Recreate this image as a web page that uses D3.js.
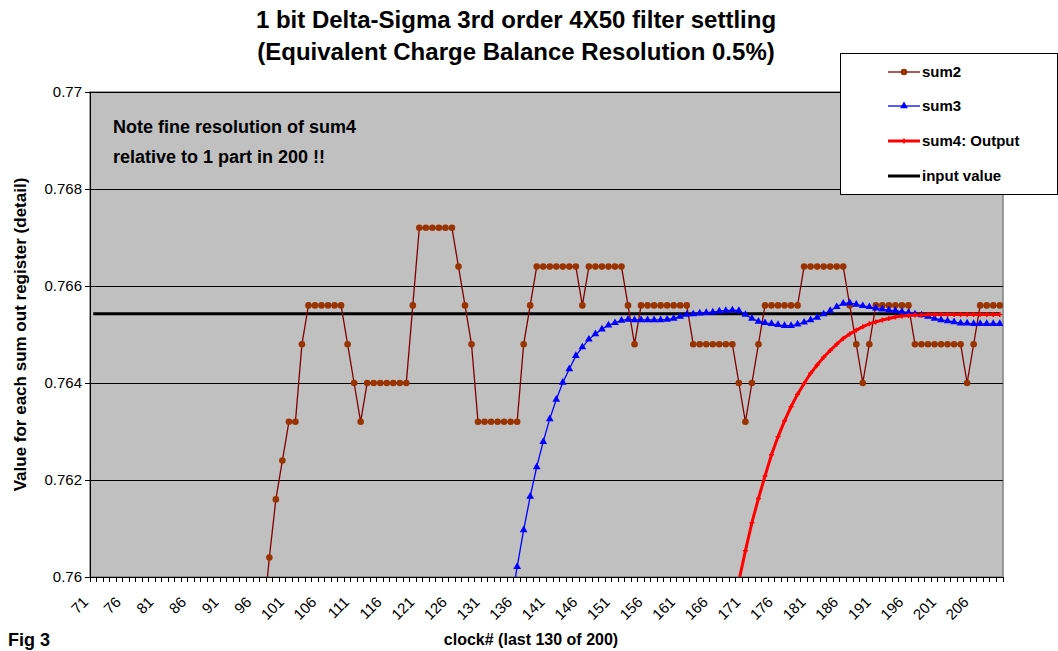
<!DOCTYPE html>
<html>
<head>
<meta charset="utf-8">
<script src="https://cdn.jsdelivr.net/npm/d3@7"></script>
<style>
  body { margin: 0; background: #fff; }
  text { font-family: Arial, "Liberation Sans", sans-serif; fill: #000; }
</style>
</head>
<body>
<script>
var width = 1058;
var height = 651;
var plot = { left: 90, right: 1003, top: 92, bottom: 577 };

// categorie: clock# 71..210
var clocks = d3.range(71, 211);
var xTickLabels = [71, 76, 81, 86, 91, 96, 101, 106, 111, 116, 121, 126, 131, 136, 141, 146, 151, 156, 161, 166, 171, 176, 181, 186, 191, 196, 201, 206];
var yTicks = [0.76, 0.762, 0.764, 0.766, 0.768, 0.77];
var yTickLabels = ['0.76', '0.762', '0.764', '0.766', '0.768', '0.77'];

// sum2 a partire dal clock 97
var sum2Start = 97;
var sum2 = [0.7590, 0.7604, 0.7616, 0.7624, 0.7632, 0.7632, 0.7648,
  0.7656, 0.7656, 0.7656, 0.7656, 0.7656, 0.7656,
  0.7648, 0.7640, 0.7632,
  0.7640, 0.7640, 0.7640, 0.7640, 0.7640, 0.7640, 0.7640,
  0.7656,
  0.7672, 0.7672, 0.7672, 0.7672, 0.7672, 0.7672,
  0.7664, 0.7656, 0.7648,
  0.7632, 0.7632, 0.7632, 0.7632, 0.7632, 0.7632, 0.7632,
  0.7648, 0.7656,
  0.7664, 0.7664, 0.7664, 0.7664, 0.7664, 0.7664, 0.7664,
  0.7656,
  0.7664, 0.7664, 0.7664, 0.7664, 0.7664, 0.7664,
  0.7656, 0.7648,
  0.7656, 0.7656, 0.7656, 0.7656, 0.7656, 0.7656, 0.7656, 0.7656,
  0.7648, 0.7648, 0.7648, 0.7648, 0.7648, 0.7648, 0.7648,
  0.7640, 0.7632, 0.7640, 0.7648,
  0.7656, 0.7656, 0.7656, 0.7656, 0.7656, 0.7656,
  0.7664, 0.7664, 0.7664, 0.7664, 0.7664, 0.7664, 0.7664,
  0.7656, 0.7648, 0.7640, 0.7648,
  0.7656, 0.7656, 0.7656, 0.7656, 0.7656, 0.7656,
  0.7648, 0.7648, 0.7648, 0.7648, 0.7648, 0.7648, 0.7648, 0.7648,
  0.7640, 0.7648,
  0.7656, 0.7656, 0.7656, 0.7656];

// sum3 a partire dal clock 135
var sum3Start = 135;
var sum3 = [0.75940, 0.76021, 0.76097, 0.76166, 0.76227, 0.76279, 0.76326, 0.76366, 0.76401, 0.76429,
  0.76456, 0.76474, 0.76490, 0.76501, 0.76511, 0.76519, 0.76524, 0.76529, 0.76531, 0.76530,
  0.76530, 0.76530, 0.76530, 0.76530, 0.76531, 0.76533, 0.76537, 0.76541, 0.76542, 0.76544,
  0.76545, 0.76546, 0.76548, 0.76549, 0.76550, 0.76549, 0.76541, 0.76533, 0.76527, 0.76524,
  0.76522, 0.76520, 0.76518, 0.76518, 0.76521, 0.76525, 0.76530, 0.76535, 0.76542, 0.76549,
  0.76557, 0.76564, 0.76565, 0.76562, 0.76559, 0.76557, 0.76554, 0.76552, 0.76550, 0.76549,
  0.76547, 0.76545, 0.76542, 0.76540, 0.76537, 0.76533, 0.76530, 0.76528, 0.76526, 0.76523,
  0.76523, 0.76522, 0.76522, 0.76522, 0.76522, 0.76522];

// sum4 a partire dal clock 170
var sum4Start = 170;
var sum4 = [0.75992, 0.76054, 0.76112, 0.76162, 0.76208, 0.76252, 0.76289, 0.76322, 0.76351, 0.76377,
  0.76399, 0.76420, 0.76437, 0.76453, 0.76467, 0.76480, 0.76492, 0.76501, 0.76509, 0.76516,
  0.76522, 0.76526, 0.76530, 0.76533, 0.76536, 0.76538, 0.76539, 0.76540, 0.76540, 0.76541,
  0.76541, 0.76541, 0.76541, 0.76541, 0.76541, 0.76541, 0.76541, 0.76541, 0.76541, 0.76541,
  0.76541];

var inputValue = 0.76543;

var svg = d3.select('body').append('svg')
  .attr('width', width)
  .attr('height', height);

var x = d3.scaleBand().domain(clocks).range([plot.left, plot.right]).padding(0);
var y = d3.scaleLinear().domain([0.76, 0.77]).range([plot.bottom, plot.top]);
var cx = function (c) { return x(c) + x.bandwidth() / 2; };

function toPoints(start, values) {
  return values.map(function (v, i) { return { c: start + i, v: v }; });
}

// titolo
svg.append('text').attr('x', 516).attr('y', 28).attr('text-anchor', 'middle')
  .style('font-size', '24px').style('font-weight', 'bold')
  .text('1 bit Delta-Sigma 3rd order 4X50 filter settling');
svg.append('text').attr('x', 516).attr('y', 60).attr('text-anchor', 'middle')
  .style('font-size', '24px').style('font-weight', 'bold')
  .text('(Equivalent Charge Balance Resolution 0.5%)');

// area del grafico
svg.append('rect')
  .attr('x', plot.left).attr('y', plot.top)
  .attr('width', plot.right - plot.left).attr('height', plot.bottom - plot.top)
  .style('fill', '#c0c0c0').style('stroke', '#808080').style('stroke-width', 1.5);

svg.append('clipPath').attr('id', 'clip').append('rect')
  .attr('x', plot.left).attr('y', plot.top)
  .attr('width', plot.right - plot.left).attr('height', plot.bottom - plot.top);

// griglia
svg.selectAll('.grid').data(yTicks.slice(1)).enter().append('line')
  .attr('class', 'grid')
  .attr('x1', plot.left).attr('x2', plot.right)
  .attr('y1', function (d) { return Math.round(y(d)) + 0.5; })
  .attr('y2', function (d) { return Math.round(y(d)) + 0.5; })
  .style('stroke', '#000').style('stroke-width', 1);

// asse y
var yAxis = svg.append('g').attr('transform', 'translate(' + plot.left + ',0)')
  .call(d3.axisLeft(y).tickValues(yTicks)
    .tickFormat(function (d, i) { return yTickLabels[i]; })
    .tickSize(5).tickPadding(3));
yAxis.select('.domain').style('stroke', '#000').style('shape-rendering', 'crispEdges');
yAxis.selectAll('line').style('shape-rendering', 'crispEdges');
yAxis.selectAll('text').style('font-size', '15px').style('font-family', 'Arial, "Liberation Sans", sans-serif');

// asse x
svg.append('line')
  .attr('x1', plot.left).attr('x2', plot.right)
  .attr('y1', plot.bottom + 0.5).attr('y2', plot.bottom + 0.5)
  .style('stroke', '#000').style('stroke-width', 1);
var bounds = clocks.map(function (c) { return x(c); }).concat([plot.right]);
svg.selectAll('.xtick').data(bounds).enter().append('line')
  .attr('class', 'xtick')
  .attr('x1', function (d) { return d; }).attr('x2', function (d) { return d; })
  .attr('y1', plot.bottom).attr('y2', plot.bottom + 5)
  .style('stroke', '#000').style('stroke-width', 1)
  .style('shape-rendering', 'crispEdges');
svg.selectAll('.xlabel').data(xTickLabels).enter().append('text')
  .attr('class', 'xlabel')
  .attr('text-anchor', 'end')
  .attr('transform', function (d) { return 'translate(' + (cx(d) - 4) + ',' + (plot.bottom + 26) + ') rotate(-45)'; })
  .style('font-size', '15px')
  .text(function (d) { return d; });

// titoli degli assi
svg.append('text').attr('transform', 'translate(26,' + ((plot.top + plot.bottom) / 2) + ') rotate(-90)')
  .attr('text-anchor', 'middle').style('font-size', '17px').style('font-weight', 'bold')
  .text('Value for each sum out register (detail)');
svg.append('text').attr('x', 531).attr('y', 645).attr('text-anchor', 'middle')
  .style('font-size', '16px').style('font-weight', 'bold')
  .text('clock# (last 130 of 200)');
svg.append('text').attr('x', 8).attr('y', 646)
  .style('font-size', '18px').style('font-weight', 'bold')
  .text('Fig 3');

// nota
svg.append('text').attr('x', 113).attr('y', 133)
  .style('font-size', '18px').style('font-weight', 'bold')
  .text('Note fine resolution of sum4');
svg.append('text').attr('x', 113).attr('y', 163)
  .style('font-size', '18px').style('font-weight', 'bold')
  .text('relative to 1 part in 200 !!');

// serie
var series = svg.append('g').attr('clip-path', 'url(#clip)');
var line = d3.line().x(function (d) { return cx(d.c); }).y(function (d) { return y(d.v); });

// input value
series.append('line')
  .attr('x1', cx(clocks[0])).attr('x2', cx(clocks[clocks.length - 1]))
  .attr('y1', y(inputValue)).attr('y2', y(inputValue))
  .style('stroke', '#000').style('stroke-width', 3);

// sum2
var p2 = toPoints(sum2Start, sum2);
series.append('path').datum(p2).attr('d', line)
  .style('fill', 'none').style('stroke', '#800000').style('stroke-width', 1.3);
series.selectAll('.m2').data(p2).enter().append('circle')
  .attr('class', 'm2')
  .attr('cx', function (d) { return cx(d.c); }).attr('cy', function (d) { return y(d.v); })
  .attr('r', 3.3).style('fill', '#993300');

// sum3
var p3 = toPoints(sum3Start, sum3);
var tri = d3.symbol().type(d3.symbolTriangle).size(26);
series.append('path').datum(p3).attr('d', line)
  .style('fill', 'none').style('stroke', '#0000ff').style('stroke-width', 1.3);
series.selectAll('.m3').data(p3).enter().append('path')
  .attr('class', 'm3')
  .attr('transform', function (d) { return 'translate(' + cx(d.c) + ',' + y(d.v) + ')'; })
  .attr('d', tri).style('fill', '#0000ff');

// sum4
var p4 = toPoints(sum4Start, sum4);
series.append('path').datum(p4).attr('d', line)
  .style('fill', 'none').style('stroke', '#ff0000').style('stroke-width', 3);
series.selectAll('.m4').data(p4).enter().append('path')
  .attr('class', 'm4')
  .attr('transform', function (d) { return 'translate(' + cx(d.c) + ',' + y(d.v) + ')'; })
  .attr('d', 'M-2.5,0H2.5M0,-2.5V2.5')
  .style('stroke', '#ff0000').style('stroke-width', 1.5);

// legenda
var legend = svg.append('g');
legend.append('rect')
  .attr('x', 840.5).attr('y', 53.5).attr('width', 217).attr('height', 141)
  .style('fill', '#fff').style('stroke', '#000').style('stroke-width', 1);

var legendItems = [
  { name: 'sum2', color: '#800000', width: 1.3, marker: 'circle', y: 72 },
  { name: 'sum3', color: '#0000ff', width: 1.3, marker: 'triangle', y: 106 },
  { name: 'sum4: Output', color: '#ff0000', width: 3, marker: 'plus', y: 141 },
  { name: 'input value', color: '#000', width: 3, marker: 'none', y: 176 }
];
legendItems.forEach(function (it) {
  legend.append('line')
    .attr('x1', 888).attr('x2', 920).attr('y1', it.y).attr('y2', it.y)
    .style('stroke', it.color).style('stroke-width', it.width);
  if (it.marker === 'circle') {
    legend.append('circle').attr('cx', 904).attr('cy', it.y).attr('r', 3.3).style('fill', '#993300');
  } else if (it.marker === 'triangle') {
    legend.append('path').attr('transform', 'translate(904,' + it.y + ')').attr('d', tri).style('fill', '#0000ff');
  } else if (it.marker === 'plus') {
    legend.append('path').attr('transform', 'translate(904,' + it.y + ')')
      .attr('d', 'M-2.5,0H2.5M0,-2.5V2.5').style('stroke', '#ff0000').style('stroke-width', 1.5);
  }
  legend.append('text').attr('x', 922).attr('y', it.y + 5)
    .style('font-size', '15px').style('font-weight', 'bold')
    .text(it.name);
});
</script>
</body>
</html>
